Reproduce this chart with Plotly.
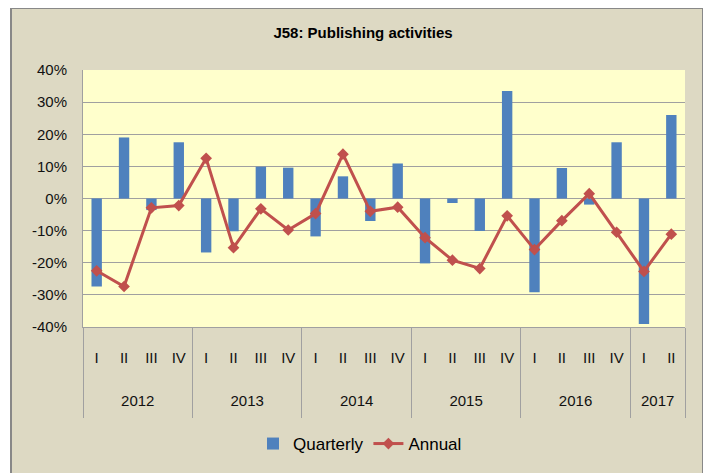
import plotly.graph_objects as go

years = ["2012", "2013", "2014", "2015", "2016", "2017"]
quarters = ["I", "II", "III", "IV"]*5 + ["I", "II"]
quarters_per_year = [4, 4, 4, 4, 4, 2]
quarterly = [-27.4, 19.0, -3.6, 17.5, -16.8, -10.2, 9.9, 9.6, -11.8, 6.9, -7.0, 10.9,
             -20.2, -1.4, -10.1, 33.5, -29.2, 9.5, -1.9, 17.5, -39.1, 26.0]
annual = [-22.5, -27.4, -2.9, -2.2, 12.5, -15.3, -3.2, -9.8, -4.7, 13.8, -4.0, -2.7,
          -12.2, -19.2, -21.8, -5.4, -15.9, -6.9, 1.5, -10.5, -22.7, -11.1]
ytick_vals = [-0.4, -0.3, -0.2, -0.1, 0, 0.1, 0.2, 0.3, 0.4]
ytick_text = ["-40%", "-30%", "-20%", "-10%", "0%", "10%", "20%", "30%", "40%"]

# category keys (one per quarter) built from the lists above
cats = []
for y, n in zip(years, quarters_per_year):
    for q in ["I", "II", "III", "IV"][:n]:
        cats.append(f"{y} {q}")
q_vals = [v/100 for v in quarterly]
a_vals = [v/100 for v in annual]

# group centres and boundaries in category index units
centres, bounds = [], [-0.5]
start = 0
for n in quarters_per_year:
    centres.append(start + (n - 1) / 2)
    start += n
    bounds.append(start - 0.5)

FONT = "Liberation Sans, Arial, sans-serif"
W, H = 711, 473
OFF = 8  # page offset of the figure (body margin)
ML, MT = 83 - OFF, 70 - OFF
PW, PH = 602, 257
MR, MB = W - ML - PW, H - MT - PH
GRID = "#A0A0A0"
TICK_FONT = dict(size=15, color="#111111", family=FONT)

def px_x(p):  # page pixel -> paper x
    return (p - OFF - ML) / PW

def px_y(p):  # page pixel -> paper y
    return (MT + PH - (p - OFF)) / PH

fig = go.Figure()
fig.add_trace(go.Bar(x=cats, y=q_vals, name="Quarterly",
                     marker=dict(color="#4F81BD", line=dict(width=0)), width=0.38))
fig.add_trace(go.Scatter(x=cats, y=a_vals, name="Annual", mode="lines+markers",
                         line=dict(color="#C0504D", width=3),
                         marker=dict(symbol="diamond", size=9, color="#C0504D")))
# invisible helper traces to activate the year-label and divider axes
fig.add_trace(go.Scatter(x=[centres[0]], y=[0], xaxis="x2", yaxis="y",
                         mode="markers", marker=dict(opacity=0), showlegend=False,
                         hoverinfo="skip"))
fig.add_trace(go.Scatter(x=[bounds[0]], y=[0], xaxis="x3", yaxis="y",
                         mode="markers", marker=dict(opacity=0), showlegend=False,
                         hoverinfo="skip"))

fig.update_layout(
    width=W, height=H,
    margin=dict(l=ML, r=MR, t=MT, b=MB, autoexpand=False),
    paper_bgcolor="white",
    plot_bgcolor="rgba(0,0,0,0)",
    font=dict(family=FONT, size=14, color="#000000"),
    title=dict(text="<b>J58: Publishing activities</b>", x=(363 - OFF) / W, xanchor="center",
               xref="container",
               y=1 - (33 - OFF) / H, yanchor="middle", font=dict(size=15, family=FONT)),
    showlegend=True,
    legend=dict(orientation="h", x=px_x(360), xanchor="center", y=px_y(444), yanchor="middle",
                bgcolor="rgba(0,0,0,0)", font=dict(size=17, family=FONT),
                itemwidth=30, tracegroupgap=0),
    shapes=[
        dict(type="rect", xref="paper", yref="paper", x0=px_x(11), x1=px_x(703),
             y0=px_y(490), y1=px_y(8), fillcolor="#DDD9C3",
             line=dict(color="#888888", width=2), layer="below"),
        dict(type="rect", xref="paper", yref="paper", x0=0, x1=1, y0=0, y1=1,
             fillcolor="#FFFFCC", line=dict(width=0), layer="below"),
    ],
    yaxis=dict(range=[-0.4, 0.4], tickvals=ytick_vals, ticktext=ytick_text,
               showgrid=True, gridcolor=GRID, gridwidth=1,
               zeroline=False, showline=True, linecolor=GRID,
               ticks="", ticklabelstandoff=12, automargin=False,
               tickfont=TICK_FONT),
    xaxis=dict(type="category", categoryorder="array", categoryarray=cats,
               range=[-0.5, len(cats) - 0.5],
               tickvals=cats, ticktext=quarters, ticks="", showline=True,
               linecolor=GRID, showgrid=False, automargin=False,
               ticklabelstandoff=17, tickfont=TICK_FONT),
    xaxis2=dict(type="linear", overlaying="x", side="bottom", anchor="y",
                range=[-0.5, len(cats) - 0.5], tickvals=centres, ticktext=years,
                ticks="", showline=False, showgrid=False, zeroline=False,
                automargin=False, ticklabelstandoff=63,
                tickfont=TICK_FONT),
    xaxis3=dict(type="linear", overlaying="x", side="bottom", anchor="y",
                range=[-0.5, len(cats) - 0.5], tickvals=bounds,
                ticks="outside", ticklen=90, tickcolor=GRID, tickwidth=1,
                showticklabels=False, showline=False, showgrid=False,
                zeroline=False, automargin=False),
)

fig.write_html("out.html")
